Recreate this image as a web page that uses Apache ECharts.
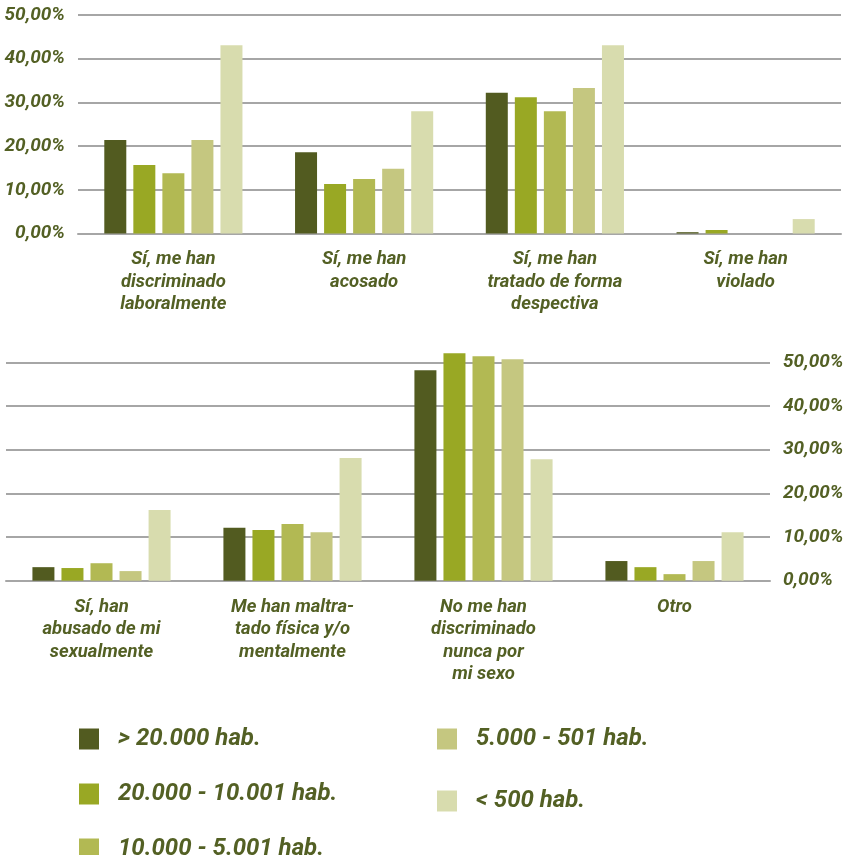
<!DOCTYPE html>
<html>
<head>
<meta charset="utf-8">
<script src="https://cdn.jsdelivr.net/npm/echarts@6/dist/echarts.min.js"></script>
<style>
html,body{margin:0;padding:0;background:#fff;}
#chart{width:851px;height:855px;}
</style>
</head>
<body>
<div id="chart"></div>
<script>
var categoriesTop = ['Sí, me han\ndiscriminado\nlaboralmente', 'Sí, me han\nacosado', 'Sí, me han\ntratado de forma\ndespectiva', 'Sí, me han\nviolado'];
var categoriesBottom = ['Sí, han\nabusado de mi\nsexualmente', 'Me han maltra-\ntado física y/o\nmentalmente', 'No me han\ndiscriminado\nnunca por\nmi sexo', 'Otro'];
var seriesNames = ['> 20.000 hab.', '20.000 - 10.001 hab.', '10.000 - 5.001 hab.', '5.000 - 501 hab.', '< 500 hab.'];
var top1 = [21.4, 18.6, 32.2, 0.3];
var top2 = [15.7, 11.3, 31.2, 0.8];
var top3 = [13.8, 12.5, 28.0, 0];
var top4 = [21.4, 14.8, 33.3, 0];
var top5 = [43.1, 28.0, 43.1, 3.3];
var bot1 = [3.1, 12.1, 48.2, 4.5];
var bot2 = [2.9, 11.6, 52.1, 3.1];
var bot3 = [4.0, 13.0, 51.4, 1.5];
var bot4 = [2.2, 11.1, 50.7, 4.5];
var bot5 = [16.2, 28.1, 27.8, 11.1];
var colors = ['#525b20', '#99a824', '#b2b953', '#c5c780', '#d8dcae'];

var textColor = '#536024';
var fontFam = 'Roboto';
var topVals = [top1, top2, top3, top4, top5];
var botVals = [bot1, bot2, bot3, bot4, bot5];

function pct(v){ return v.toFixed(2).replace('.', ',') + '%'; }

var yLabel = {color: textColor, fontFamily: fontFam, fontStyle: 'italic', fontWeight: 'bold', fontSize: 19, formatter: pct, margin: 13};
var xLabel = {color: textColor, fontFamily: fontFam, fontStyle: 'italic', fontWeight: 'bold', fontSize: 18.5, lineHeight: 22.5, margin: 15, interval: 0};

var series = [];
for (var i = 0; i < 5; i++) {
  series.push({name: seriesNames[i], type: 'bar', xAxisIndex: 0, yAxisIndex: 0, data: topVals[i], barWidth: 22, barGap: '32%', itemStyle: {color: colors[i]}, clip: false});
}
for (var j = 0; j < 5; j++) {
  series.push({name: seriesNames[j], type: 'bar', xAxisIndex: 1, yAxisIndex: 1, data: botVals[j], barWidth: 22, barGap: '32%', itemStyle: {color: colors[j]}, clip: false});
}

var legendText = {color: textColor, fontFamily: fontFam, fontStyle: 'italic', fontWeight: 'bold', fontSize: 24, lineHeight: 21, padding: [0, 0, 0, 14]};

var option = {
  animation: false,
  color: colors,
  grid: [
    {left: 78, right: 10, top: 15, height: 218.5},
    {left: 6, right: 81, top: 362.3, height: 218.4}
  ],
  xAxis: [
    {type: 'category', gridIndex: 0, data: categoriesTop, axisLine: {lineStyle: {color: '#a6a6a6', width: 2}}, axisTick: {show: false}, axisLabel: xLabel},
    {type: 'category', gridIndex: 1, data: categoriesBottom, axisLine: {lineStyle: {color: '#a6a6a6', width: 2}}, axisTick: {show: false}, axisLabel: xLabel}
  ],
  yAxis: [
    {type: 'value', gridIndex: 0, min: 0, max: 50, interval: 10, position: 'left', axisLine: {show: false}, axisTick: {show: false}, splitLine: {lineStyle: {color: '#a6a6a6', width: 2}}, axisLabel: yLabel},
    {type: 'value', gridIndex: 1, min: 0, max: 50, interval: 10, position: 'right', axisLine: {show: false}, axisTick: {show: false}, splitLine: {lineStyle: {color: '#a6a6a6', width: 2}}, axisLabel: yLabel}
  ],
  legend: [
    {data: seriesNames.slice(0, 3), orient: 'vertical', left: 79, top: 727, height: 200, padding: 0, itemWidth: 20, itemHeight: 21, itemGap: 31, icon: 'rect', textStyle: legendText, selectedMode: false},
    {data: seriesNames.slice(3, 5), orient: 'vertical', left: 437, top: 727, height: 200, padding: 0, itemWidth: 20, itemHeight: 21, itemGap: 38, icon: 'rect', textStyle: legendText, selectedMode: false}
  ],
  series: series
};
var chart = echarts.init(document.getElementById('chart'));
chart.setOption(option);
</script>
</body>
</html>
